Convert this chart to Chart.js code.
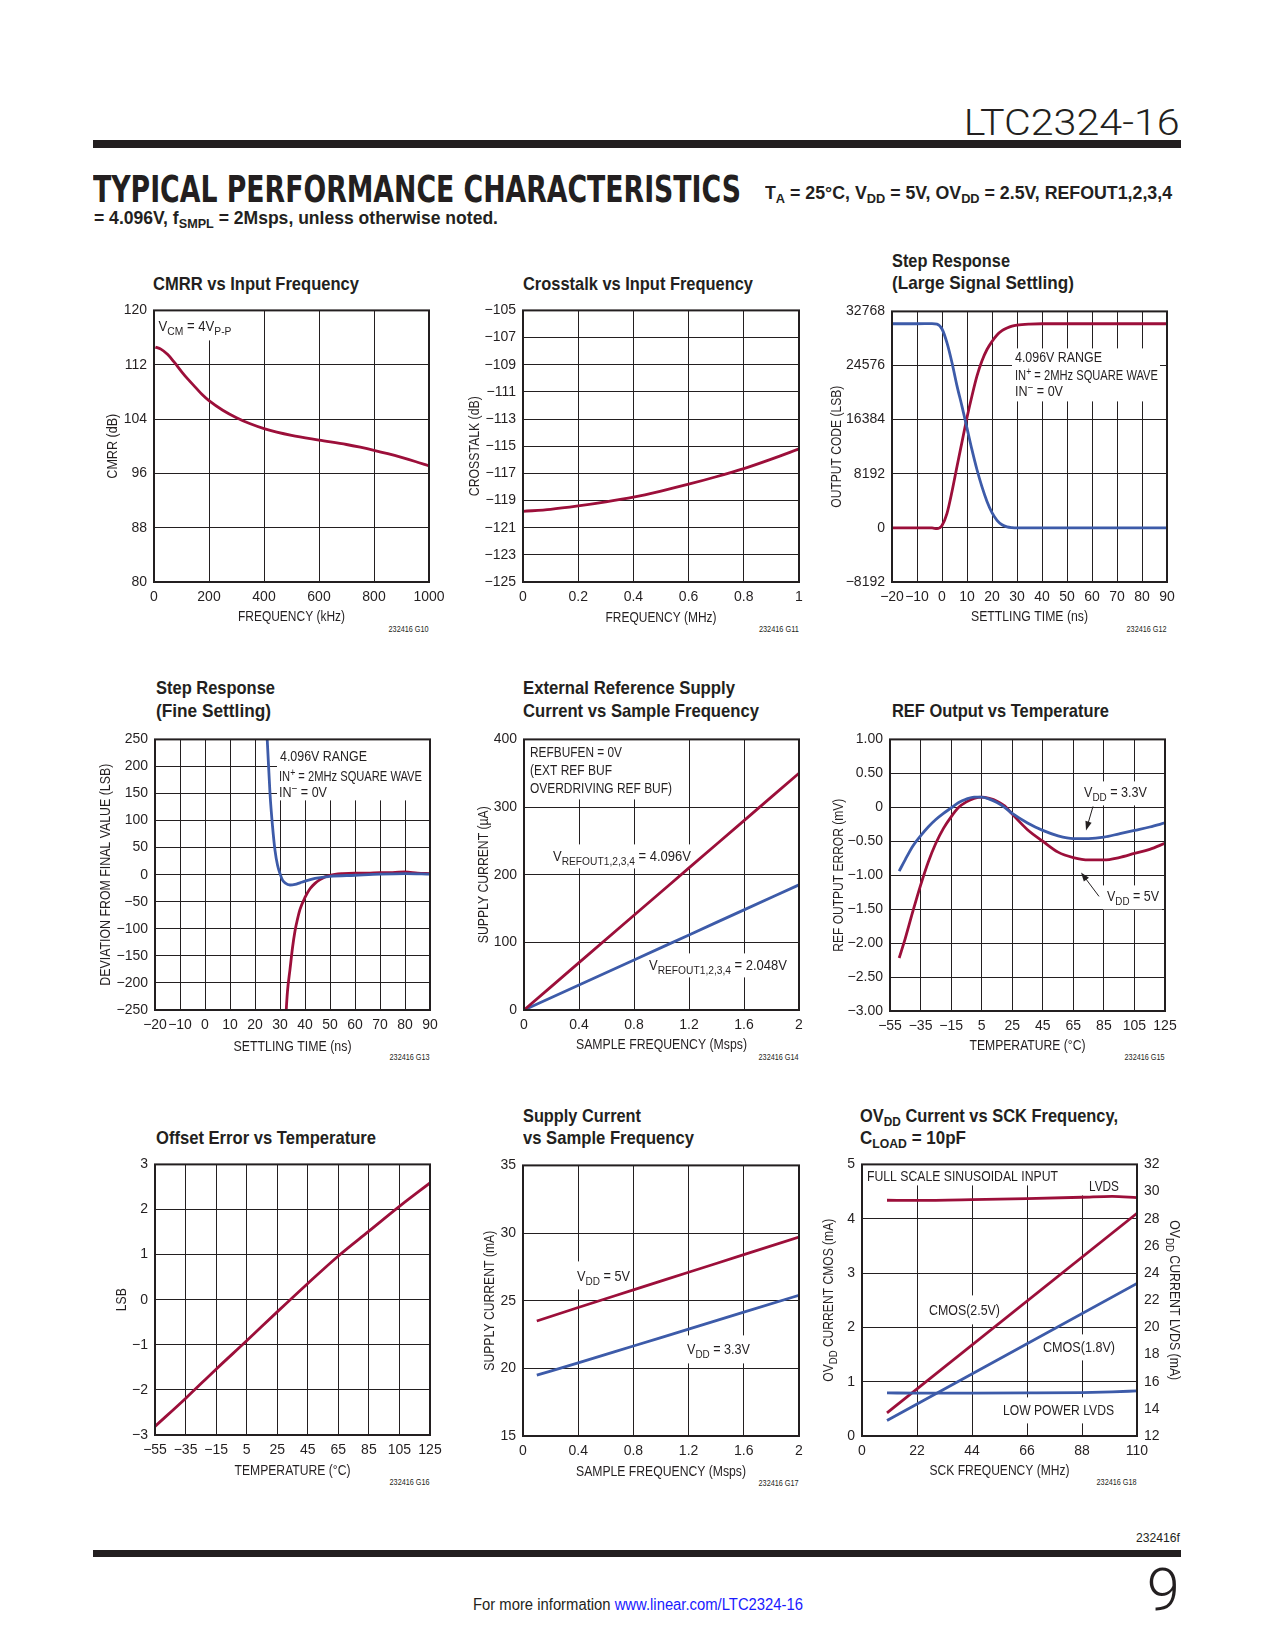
<!DOCTYPE html>
<html>
<head>
<meta charset="utf-8">
<title>LTC2324-16 Typical Performance Characteristics</title>
<script src="https://cdn.jsdelivr.net/npm/chart.js@4.4.0/dist/chart.umd.min.js"></script>
<style>
  body { margin: 0; background: #fff; }
  #page { position: relative; width: 1275px; height: 1650px; overflow: hidden; background: #fff;
          color: #231f20; font-family: 'Liberation Sans Narrow', 'Arial Narrow', 'Liberation Sans', Arial, sans-serif; }
  .t { position: absolute; white-space: nowrap; line-height: 1; transform-origin: left center; }
  .r { transform-origin: right center; }
  .bar { position: absolute; background: #231f20; }
  .ct { font-weight: bold; font-size: 19px; }
  .fn { font-size: 9px; }
  sub { font-size: 72%; vertical-align: -0.3em; line-height: 0; }
</style>
</head>
<body>
<div id="page">
  <div class="t r" style="right:95px; top:105px; font-family:Roboto, 'Open Sans', sans-serif; font-weight:300; font-size:36px;" data-w="216">LTC2324-16</div>
  <div class="bar" style="left:93px; top:140px; width:1088px; height:8px;"></div>

  <div class="t" style="left:93px; top:170px; font-family:'DejaVu Sans Condensed','DejaVu Sans',sans-serif; font-weight:bold; font-size:38px;" data-w="648">TYPICAL PERFORMANCE CHARACTERISTICS</div>
  <div class="t" style="left:765px; top:184px; font-weight:bold; font-size:18px;" data-w="407">T<sub>A</sub> = 25°C, V<sub>DD</sub> = 5V, OV<sub>DD</sub> = 2.5V, REFOUT1,2,3,4</div>
  <div class="t" style="left:94px; top:209px; font-weight:bold; font-size:18px;" data-w="404">= 4.096V, f<sub>SMPL</sub> = 2Msps, unless otherwise noted.</div>

  <div class="t ct" style="left:153px; top:274px;" data-w="206">CMRR vs Input Frequency</div>
  <div class="t ct" style="left:523px; top:274px;" data-w="230">Crosstalk vs Input Frequency</div>
  <div class="t ct" style="left:892px; top:251px;" data-w="118">Step Response</div>
  <div class="t ct" style="left:892px; top:273px;" data-w="182">(Large Signal Settling)</div>

  <div class="t ct" style="left:156px; top:678px;" data-w="119">Step Response</div>
  <div class="t ct" style="left:156px; top:701px;" data-w="115">(Fine Settling)</div>
  <div class="t ct" style="left:523px; top:678px;" data-w="212">External Reference Supply</div>
  <div class="t ct" style="left:523px; top:701px;" data-w="236">Current vs Sample Frequency</div>
  <div class="t ct" style="left:892px; top:701px;" data-w="217">REF Output vs Temperature</div>

  <div class="t ct" style="left:156px; top:1128px;" data-w="220">Offset Error vs Temperature</div>
  <div class="t ct" style="left:523px; top:1106px;" data-w="118">Supply Current</div>
  <div class="t ct" style="left:523px; top:1128px;" data-w="171">vs Sample Frequency</div>
  <div class="t ct" style="left:860px; top:1106px;" data-w="258">OV<sub>DD</sub> Current vs SCK Frequency,</div>
  <div class="t ct" style="left:860px; top:1128px;" data-w="106">C<sub>LOAD</sub> = 10pF</div>

  <div class="t r fn" style="right:846px; top:625px;" data-w="40">232416 G10</div>
  <div class="t r fn" style="right:476px; top:625px;" data-w="40">232416 G11</div>
  <div class="t r fn" style="right:108px; top:625px;" data-w="40">232416 G12</div>
  <div class="t r fn" style="right:845px; top:1053px;" data-w="40">232416 G13</div>
  <div class="t r fn" style="right:476px; top:1053px;" data-w="40">232416 G14</div>
  <div class="t r fn" style="right:110px; top:1053px;" data-w="40">232416 G15</div>
  <div class="t r fn" style="right:845px; top:1478px;" data-w="40">232416 G16</div>
  <div class="t r fn" style="right:476px; top:1479px;" data-w="40">232416 G17</div>
  <div class="t r fn" style="right:138px; top:1478px;" data-w="40">232416 G18</div>

  <div class="t r" style="right:95px; top:1531px; font-size:13px;" data-w="44">232416f</div>
  <div class="bar" style="left:93px; top:1550px; width:1088px; height:7px;"></div>
  <div class="t r" style="right:95px; top:1560px; font-family:Roboto, sans-serif; font-weight:300; font-size:59px;" data-w="33">9</div>
  <div class="t" style="left:473px; top:1597px; font-size:16px;" data-w="330">For more information <span style="color:#1a1aff;">www.linear.com/LTC2324-16</span></div>
</div>

<script>
// ---- CMRR vs input frequency ----
const cmrrFreq = [5, 25, 50, 75, 100, 125, 150, 175, 200, 250, 300, 350, 400, 500, 600, 700, 750, 800, 850, 900, 950, 1000];
const cmrrDb = [114.6, 114.3, 113.5, 112.3, 111.0, 109.8, 108.7, 107.6, 106.7, 105.3, 104.2, 103.3, 102.6, 101.6, 100.9, 100.25, 99.85, 99.4, 98.9, 98.35, 97.75, 97.1];
const cmrrXTicks = [0, 200, 400, 600, 800, 1000];
const cmrrYTicks = [80, 88, 96, 104, 112, 120];

// ---- crosstalk vs input frequency ----
const xtalkFreq = [0, 0.1, 0.2, 0.3, 0.4, 0.5, 0.6, 0.7, 0.8, 0.9, 1.0];
const xtalkDb = [-119.8, -119.65, -119.4, -119.1, -118.75, -118.3, -117.8, -117.25, -116.65, -115.95, -115.2];
const xtalkXTicks = [0, 0.2, 0.4, 0.6, 0.8, 1];
const xtalkYTicks = [-125, -123, -121, -119, -117, -115, -113, -111, -109, -107, -105];

// ---- step response, large signal ----
const stepTimeFall = [-20, -10, -4, -2, 0, 2, 4, 6, 8, 10, 12, 14, 16, 18, 20, 22, 24, 26, 28, 30, 35, 90];
const stepCodeFall = [30900, 30900, 30920, 30850, 30100, 28000, 25000, 21500, 18400, 15100, 11800, 8800, 6200, 4000, 2300, 1150, 480, 160, 40, 0, 0, 0];
const stepTimeRise = [-20, -10, -4, -2, -1, 0, 2, 4, 6, 8, 10, 12, 14, 16, 18, 20, 22, 24, 26, 28, 30, 35, 40, 90];
const stepCodeRise = [0, 0, 0, -120, 0, 350, 2200, 5500, 9300, 13000, 16700, 20000, 23000, 25300, 27000, 28200, 29200, 29850, 30250, 30550, 30700, 30850, 30900, 30900];
const stepXTicks = [-20, -10, 0, 10, 20, 30, 40, 50, 60, 70, 80, 90];
const stepYTicks = [-8192, 0, 8192, 16384, 24576, 32768];

// ---- step response, fine settling ----
const fineTimeFall = [24.3, 25, 26, 27, 28, 29, 30, 31, 32, 34, 36, 38, 40, 44, 50, 60, 70, 80, 90];
const fineDevFall = [300, 240, 150, 90, 45, 18, 2, -10, -15, -19, -18, -15, -12, -7, -3, -1, 1, 2, 1];
const fineTimeRise = [32, 32.5, 33, 34, 35, 36, 37, 38, 40, 42, 44, 46, 48, 50, 55, 60, 65, 70, 75, 80, 85, 90];
const fineDevRise = [-300, -250, -215, -175, -135, -104, -82, -64, -42, -26, -16, -9, -4, -1, 2, 3, 3, 4, 4, 5, 3, 2];
const fineYTicks = [-250, -200, -150, -100, -50, 0, 50, 100, 150, 200, 250];

// ---- external reference supply current ----
const extFreq = [0, 0.4, 0.8, 1.2, 1.6, 2];
const extCur4096 = [0, 70, 140, 210, 280, 350];
const extCur2048 = [0, 37, 74, 111, 148, 185];
const extXTicks = [0, 0.4, 0.8, 1.2, 1.6, 2];
const extYTicks = [0, 100, 200, 300, 400];

// ---- REF output vs temperature ----
const refTemp = [-49, -45, -40, -35, -30, -25, -20, -15, -10, -5, 0, 5, 10, 15, 20, 25, 35, 45, 55, 65, 75, 85, 95, 105, 115, 125];
const refErr33 = [-0.94, -0.77, -0.57, -0.42, -0.29, -0.18, -0.09, -0.01, 0.07, 0.12, 0.15, 0.15, 0.12, 0.07, 0.0, -0.09, -0.23, -0.34, -0.42, -0.46, -0.46, -0.44, -0.39, -0.34, -0.29, -0.23];
const refErr5 = [-2.22, -1.93, -1.53, -1.15, -0.81, -0.53, -0.31, -0.14, 0.0, 0.08, 0.13, 0.15, 0.13, 0.09, 0.02, -0.1, -0.33, -0.5, -0.66, -0.74, -0.775, -0.775, -0.74, -0.68, -0.62, -0.53];
const tempTicks = [-55, -35, -15, 5, 25, 45, 65, 85, 105, 125];
const refYTicks = [-3, -2.5, -2, -1.5, -1, -0.5, 0, 0.5, 1];

// ---- offset error vs temperature ----
const offTemp = [-55, -35, -15, 5, 25, 45, 65, 85, 105, 125];
const offLsb = [-2.81, -2.19, -1.54, -0.91, -0.27, 0.36, 0.97, 1.52, 2.07, 2.59];
const offYTicks = [-3, -2, -1, 0, 1, 2, 3];

// ---- supply current vs sample frequency ----
const supFreq = [0.1, 0.4, 0.8, 1.2, 1.6, 2];
const supCur5 = [23.5, 24.5, 25.8, 27.1, 28.4, 29.7];
const supCur33 = [19.5, 20.4, 21.65, 22.9, 24.15, 25.4];
const supXTicks = [0, 0.4, 0.8, 1.2, 1.6, 2];
const supYTicks = [15, 20, 25, 30, 35];

// ---- OVDD current vs SCK frequency ----
const sckFreq = [10, 22, 44, 66, 88, 100, 110];
const ovddLvds = [29.36, 29.35, 29.4, 29.48, 29.58, 29.65, 29.55];
const ovddLpLvds = [15.17, 15.16, 15.16, 15.17, 15.2, 15.25, 15.32];
const sckFreqCmos = [10, 110];
const ovddCmos25 = [0.425, 4.1];
const ovddCmos18 = [0.285, 2.81];
const sckXTicks = [0, 22, 44, 66, 88, 110];
const cmosYTicks = [0, 1, 2, 3, 4, 5];
const lvdsYTicks = [12, 14, 16, 18, 20, 22, 24, 26, 28, 30, 32];

const INK = '#231f20';
const RED = '#9c0f3a';
const BLUE = '#3d5ba9';
const FONT = "'Liberation Sans Narrow', 'Arial Narrow', 'Liberation Sans', Arial, sans-serif";
const FS = 14;
const LH = FS * 1.2;
const decorMap = new Map();

// fit page texts to their measured widths
document.querySelectorAll('[data-w]').forEach(el => {
  const w = el.getBoundingClientRect().width;
  el.style.transform = 'scaleX(' + (Number(el.dataset.w) / w).toFixed(4) + ')';
});

const fmt = v => (v < 0 ? '\u2212' + String(-v) : String(v));
const fmt2 = v => (v === 0 ? '0' : (v < 0 ? '\u2212' : '') + Math.abs(v).toFixed(2));

function parseRich(text) {
  const segs = [];
  const re = /([_^])\{([^}]*)\}/g;
  let last = 0, m;
  while ((m = re.exec(text))) {
    if (m.index > last) segs.push({ s: text.slice(last, m.index), k: 0 });
    segs.push({ s: m[2], k: m[1] === '_' ? 1 : 2 });
    last = re.lastIndex;
  }
  if (last < text.length) segs.push({ s: text.slice(last), k: 0 });
  return segs;
}

// text with sub/superscripts; yc is the middle of the capitals
function drawRich(ctx, text, x, yc, size, targetW, align) {
  const segs = parseRich(text);
  const small = Math.round(size * 0.75);
  let w = 0;
  for (const g of segs) {
    ctx.font = (g.k ? small : size) + 'px ' + FONT;
    g.w = ctx.measureText(g.s).width;
    w += g.w;
  }
  const sx = targetW ? targetW / w : 1;
  const x0 = align === 'center' ? x - w * sx / 2 : x;
  ctx.save();
  ctx.translate(x0, yc + size * 0.36);
  ctx.scale(sx, 1);
  ctx.textAlign = 'left';
  ctx.textBaseline = 'alphabetic';
  let cx = 0;
  for (const g of segs) {
    ctx.font = (g.k ? small : size) + 'px ' + FONT;
    const dy = g.k === 1 ? size * 0.28 : g.k === 2 ? -size * 0.38 : 0;
    ctx.fillText(g.s, cx, dy);
    cx += g.w;
  }
  ctx.restore();
}

function drawArrow(ctx, x1, y1, x2, y2) {
  const a = Math.atan2(y2 - y1, x2 - x1), L = 9, W = 3.2;
  ctx.lineWidth = 1;
  ctx.beginPath();
  ctx.moveTo(x1, y1);
  ctx.lineTo(x2 - Math.cos(a) * L * 0.8, y2 - Math.sin(a) * L * 0.8);
  ctx.stroke();
  ctx.beginPath();
  ctx.moveTo(x2, y2);
  ctx.lineTo(x2 - L * Math.cos(a) + W * Math.sin(a), y2 - L * Math.sin(a) - W * Math.cos(a));
  ctx.lineTo(x2 - L * Math.cos(a) - W * Math.sin(a), y2 - L * Math.sin(a) + W * Math.cos(a));
  ctx.closePath();
  ctx.fill();
}

Chart.register({
  id: 'decor',
  beforeDatasetsDraw(chart) {
    const d = decorMap.get(chart.canvas);
    if (!d) return;
    const a = chart.chartArea, ctx = chart.ctx;
    ctx.save();
    ctx.fillStyle = '#fff';
    for (const b of d.boxes || []) ctx.fillRect(a.left + b[0], a.top + b[1], b[2] - b[0], b[3] - b[1]);
    ctx.fillStyle = INK;
    ctx.strokeStyle = INK;
    for (const n of d.notes || []) drawRich(ctx, n.text, a.left + n.dx, a.top + n.dy, FS, n.w);
    for (const r of d.arrows || []) drawArrow(ctx, a.left + r[0], a.top + r[1], a.left + r[2], a.top + r[3]);
    ctx.restore();
  },
  afterDraw(chart) {
    const d = decorMap.get(chart.canvas) || {};
    const a = chart.chartArea, ctx = chart.ctx;
    ctx.save();
    ctx.strokeStyle = INK;
    ctx.lineWidth = 2;
    ctx.strokeRect(a.left, a.top, a.right - a.left, a.bottom - a.top);
    ctx.fillStyle = INK;
    for (const t of d.axisTitles || []) {
      ctx.save();
      if (t.side === 'bottom') {
        ctx.translate((a.left + a.right) / 2, a.bottom + t.d);
      } else {
        ctx.translate(t.side === 'left' ? a.left - t.d : a.right + t.d, (a.top + a.bottom) / 2);
        ctx.rotate(t.side === 'left' ? -Math.PI / 2 : Math.PI / 2);
      }
      drawRich(ctx, t.text, 0, 0, FS, t.w, 'center');
      ctx.restore();
    }
    ctx.restore();
  }
});

function series(xs, ys, color, axisId) {
  return {
    data: xs.map((x, i) => ({ x: x, y: ys[i] })),
    borderColor: color, borderWidth: 2.8, pointRadius: 0,
    cubicInterpolationMode: 'monotone', fill: false, yAxisID: axisId || 'y'
  };
}

function axis(ax, size, pos) {
  return {
    type: 'linear', position: pos,
    min: ax.ticks[0], max: ax.ticks[ax.ticks.length - 1],
    afterBuildTicks: s => { s.ticks = ax.ticks.map(v => ({ value: v })); },
    afterFit: s => { if (pos === 'bottom') s.height = size; else s.width = size; },
    grid: { display: pos !== 'right', color: INK, lineWidth: 1, drawTicks: false },
    border: { display: false },
    ticks: {
      padding: 7, autoSkip: false, maxRotation: 0, minRotation: 0,
      color: INK, font: { family: FONT, size: FS }, callback: ax.fmt || fmt
    },
    title: { display: false }
  };
}

function makeChart(spec) {
  const p = spec.plot;
  const wl = Math.round(spec.y.d + LH / 2);
  const wr = spec.y2 ? Math.round(spec.y2.d + LH / 2) : 0;
  const hb = Math.round(spec.x.d + LH / 2);
  const padT = 12, padR = spec.y2 ? 0 : 26;
  const cw = wl + p.w + wr + padR, ch = padT + p.h + hb;
  const canvas = document.createElement('canvas');
  canvas.width = cw;
  canvas.height = ch;
  Object.assign(canvas.style, {
    position: 'absolute', left: (p.l - wl) + 'px', top: (p.t - padT) + 'px',
    width: cw + 'px', height: ch + 'px'
  });
  document.getElementById('page').appendChild(canvas);
  const decor = spec.decor || {};
  decor.axisTitles = [
    { side: 'bottom', d: spec.x.d, text: spec.x.title, w: spec.x.w },
    { side: 'left', d: spec.y.d, text: spec.y.title, w: spec.y.w }
  ];
  if (spec.y2) decor.axisTitles.push({ side: 'right', d: spec.y2.d, text: spec.y2.title, w: spec.y2.w });
  decorMap.set(canvas, decor);
  const scales = { x: axis(spec.x, hb, 'bottom'), y: axis(spec.y, wl, 'left') };
  if (spec.y2) scales.y2 = axis(spec.y2, wr, 'right');
  new Chart(canvas, {
    type: 'line',
    data: { datasets: spec.datasets },
    options: {
      responsive: false, animation: false, events: [],
      layout: { padding: { top: padT, right: padR, left: 0, bottom: 0 } },
      plugins: { legend: { display: false }, tooltip: { enabled: false } },
      scales: scales
    }
  });
}

// G10
makeChart({
  plot: { l: 154, t: 307, w: 275, h: 275 },
  x: { ticks: cmrrXTicks, title: 'FREQUENCY (kHz)', d: 34, w: 107 },
  y: { ticks: cmrrYTicks, title: 'CMRR (dB)', d: 42, w: 65 },
  datasets: [series(cmrrFreq, cmrrDb, RED)],
  decor: {
    boxes: [[0, 0, 82, 30]],
    notes: [{ dx: 4.5, dy: 16, text: 'V_{CM} = 4V_{P-P}', w: 73 }]
  }
});

// G11
makeChart({
  plot: { l: 523, t: 307, w: 276, h: 275 },
  x: { ticks: xtalkXTicks, title: 'FREQUENCY (MHz)', d: 35, w: 111 },
  y: { ticks: xtalkYTicks, title: 'CROSSTALK (dB)', d: 49, w: 100 },
  datasets: [series(xtalkFreq, xtalkDb, RED)]
});

// G12
makeChart({
  plot: { l: 892, t: 308, w: 275, h: 274 },
  x: { ticks: stepXTicks, title: 'SETTLING TIME (ns)', d: 34, w: 117 },
  y: { ticks: stepYTicks, title: 'OUTPUT CODE (LSB)', d: 56, w: 122 },
  datasets: [series(stepTimeFall, stepCodeFall, BLUE), series(stepTimeRise, stepCodeRise, RED)],
  decor: {
    boxes: [[120, 37, 268, 90]],
    notes: [
      { dx: 123, dy: 46, text: '4.096V RANGE', w: 87 },
      { dx: 123, dy: 64, text: 'IN^{+} = 2MHz SQUARE WAVE', w: 143 },
      { dx: 123, dy: 80, text: 'IN^{\u2212} = 0V', w: 48 }
    ]
  }
});

// G13
makeChart({
  plot: { l: 155, t: 736, w: 275, h: 274 },
  x: { ticks: stepXTicks, title: 'SETTLING TIME (ns)', d: 36, w: 118 },
  y: { ticks: fineYTicks, title: 'DEVIATION FROM FINAL VALUE (LSB)', d: 50, w: 222 },
  datasets: [series(fineTimeFall, fineDevFall, BLUE), series(fineTimeRise, fineDevRise, RED)],
  decor: {
    boxes: [[122, 0, 275, 61]],
    notes: [
      { dx: 125, dy: 17, text: '4.096V RANGE', w: 87 },
      { dx: 124, dy: 37, text: 'IN^{+} = 2MHz SQUARE WAVE', w: 143 },
      { dx: 124, dy: 53, text: 'IN^{\u2212} = 0V', w: 48 }
    ]
  }
});

// G14
makeChart({
  plot: { l: 524, t: 736, w: 275, h: 274 },
  x: { ticks: extXTicks, title: 'SAMPLE FREQUENCY (Msps)', d: 34, w: 171 },
  y: { ticks: extYTicks, title: 'SUPPLY CURRENT (\u00b5A)', d: 41, w: 137 },
  datasets: [series(extFreq, extCur4096, RED), series(extFreq, extCur2048, BLUE)],
  decor: {
    boxes: [[0, 0, 150, 60], [26, 105, 170, 129], [122, 214, 266, 238]],
    notes: [
      { dx: 6, dy: 13, text: 'REFBUFEN = 0V', w: 92 },
      { dx: 6, dy: 31, text: '(EXT REF BUF', w: 82 },
      { dx: 6, dy: 49, text: 'OVERDRIVING REF BUF)', w: 142 },
      { dx: 29, dy: 117, text: 'V_{REFOUT1,2,3,4} = 4.096V', w: 138 },
      { dx: 125, dy: 226, text: 'V_{REFOUT1,2,3,4} = 2.048V', w: 138 }
    ]
  }
});

// G15
makeChart({
  plot: { l: 890, t: 736, w: 275, h: 275 },
  x: { ticks: tempTicks, title: 'TEMPERATURE (\u00b0C)', d: 34, w: 116 },
  y: { ticks: refYTicks, title: 'REF OUTPUT ERROR (mV)', d: 52, w: 153, fmt: fmt2 },
  datasets: [series(refTemp, refErr33, BLUE), series(refTemp, refErr5, RED)],
  decor: {
    boxes: [[191, 42, 262, 66], [213, 146, 272, 170]],
    notes: [
      { dx: 194, dy: 53, text: 'V_{DD} = 3.3V', w: 63 },
      { dx: 217, dy: 157, text: 'V_{DD} = 5V', w: 52 }
    ],
    arrows: [[203, 67, 196, 91], [209, 157, 191, 133]]
  }
});

// G16
makeChart({
  plot: { l: 155, t: 1161, w: 275, h: 274 },
  x: { ticks: tempTicks, title: 'TEMPERATURE (\u00b0C)', d: 35, w: 116 },
  y: { ticks: offYTicks, title: 'LSB', d: 34, w: 23 },
  datasets: [series(offTemp, offLsb, RED)]
});

// G17
makeChart({
  plot: { l: 523, t: 1162, w: 276, h: 274 },
  x: { ticks: supXTicks, title: 'SAMPLE FREQUENCY (Msps)', d: 35, w: 170 },
  y: { ticks: supYTicks, title: 'SUPPLY CURRENT (mA)', d: 34, w: 140 },
  datasets: [series(supFreq, supCur5, RED), series(supFreq, supCur33, BLUE)],
  decor: {
    boxes: [[50, 96, 110, 124], [160, 170, 230, 198]],
    notes: [
      { dx: 54, dy: 111, text: 'V_{DD} = 5V', w: 53 },
      { dx: 164, dy: 184, text: 'V_{DD} = 3.3V', w: 63 }
    ]
  }
});

// G18
makeChart({
  plot: { l: 862, t: 1161, w: 275, h: 275 },
  x: { ticks: sckXTicks, title: 'SCK FREQUENCY (MHz)', d: 34, w: 140 },
  y: { ticks: cmosYTicks, title: 'OV_{DD} CURRENT CMOS (mA)', d: 34, w: 163 },
  y2: { ticks: lvdsYTicks, title: 'OV_{DD} CURRENT LVDS (mA)', d: 38, w: 160 },
  datasets: [
    series(sckFreq, ovddLvds, RED, 'y2'),
    series(sckFreq, ovddLpLvds, BLUE, 'y2'),
    series(sckFreqCmos, ovddCmos25, RED),
    series(sckFreqCmos, ovddCmos18, BLUE)
  ],
  decor: {
    boxes: [[0, 0, 200, 21], [218, 0, 262, 31], [63, 131, 141, 160], [178, 170, 256, 196], [138, 233, 255, 259]],
    notes: [
      { dx: 5, dy: 12, text: 'FULL SCALE SINUSOIDAL INPUT', w: 191 },
      { dx: 227, dy: 22, text: 'LVDS', w: 30 },
      { dx: 67, dy: 146, text: 'CMOS(2.5V)', w: 71 },
      { dx: 181, dy: 183, text: 'CMOS(1.8V)', w: 72 },
      { dx: 141, dy: 246, text: 'LOW POWER LVDS', w: 111 }
    ]
  }
});
</script>
</body>
</html>
